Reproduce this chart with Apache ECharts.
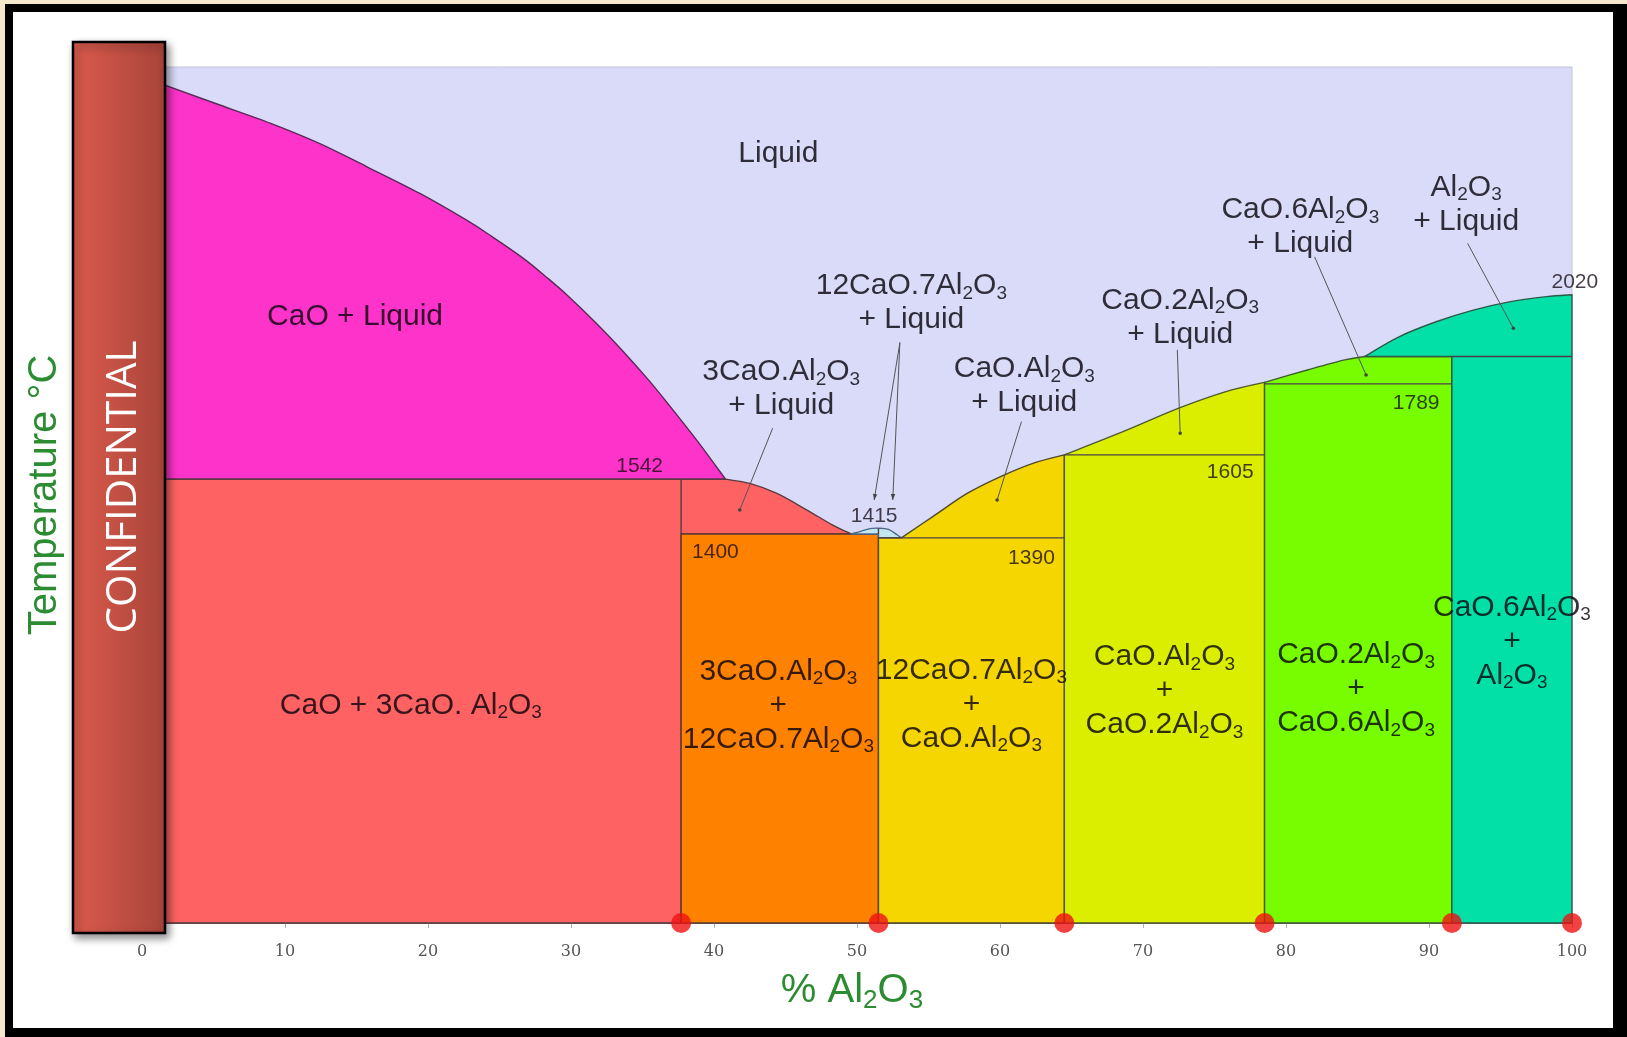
<!DOCTYPE html>
<html>
<head>
<meta charset="utf-8">
<script src="https://cdn.jsdelivr.net/npm/echarts@6/dist/echarts.min.js"></script>
<style>
html,body{margin:0;padding:0;width:1627px;height:1037px;overflow:hidden;background:#f4e9cc;}
#frame{position:absolute;left:5px;top:4px;right:0;bottom:0;border-style:solid;border-color:#000;border-width:8px 14px 9px 8px;background:#fff;}
#chart{position:absolute;left:0;top:0;width:1627px;height:1037px;}
</style>
</head>
<body>
<div id="frame"></div>
<div id="chart"></div>
<script>
// ---------------- DATA ----------------
const xTicks = [0, 10, 20, 30, 40, 50, 60, 70, 80, 90, 100];
const compounds = ['3CaO.Al2O3', '12CaO.7Al2O3', 'CaO.Al2O3', 'CaO.2Al2O3', 'CaO.6Al2O3', 'Al2O3'];
const compoundPct = [37.7, 51.5, 64.5, 78.5, 91.6, 100];
const invariantLabels = ['1542', '1400', '1415', '1390', '1605', '1789', '2020'];
const invariantTemps = [1542, 1400, 1415, 1390, 1605, 1789, 2020];
const peritecticCA6 = 1860;
const tMin = 392, tMax = 2610;

// liquidus curves [%Al2O3, T °C]
const liqCaO = [[0,2585],[1.6,2563],[5.1,2516],[9.0,2464],[12.4,2412],[15.7,2352],[19.4,2283],[22.7,2213],[24.5,2170],[26.6,2116],[28.2,2068],[29.7,2020],[31.8,1945],[33.6,1875],[35.4,1800],[36.9,1732],[39.0,1633],[40.8,1542]];
const liqC3A = [[40.8,1542],[42.5,1531],[44.4,1505],[46.5,1462],[48.3,1423],[49.6,1400]];
const liqC12A7 = [[49.6,1400],[50.2,1406],[50.9,1414],[51.5,1415],[52.2,1412],[52.8,1398],[53.1,1390]];
const liqCA = [[53.1,1390],[55.3,1445],[57.7,1505],[60.0,1548],[62.3,1583],[64.5,1605]];
const liqCA2 = [[64.5,1605],[68.6,1665],[72.5,1726],[75.8,1769],[78.5,1793]];
const liqCA6 = [[78.5,1793],[81.5,1825],[84.1,1851],[85.5,1860]];
const liqAl2O3 = [[85.5,1860],[87.9,1911],[90.5,1950],[93.1,1980],[95.7,2002],[98.2,2015],[100,2020]];

// phase field labels
const regionLabels = ['Liquid','CaO + Liquid','CaO + 3CaO. Al2O3','3CaO.Al2O3\n+ Liquid','12CaO.7Al2O3\n+ Liquid','CaO.Al2O3\n+ Liquid','CaO.2Al2O3\n+ Liquid','CaO.6Al2O3\n+ Liquid','Al2O3\n+ Liquid','3CaO.Al2O3\n+\n12CaO.7Al2O3','12CaO.7Al2O3\n+\nCaO.Al2O3','CaO.Al2O3\n+\nCaO.2Al2O3','CaO.2Al2O3\n+\nCaO.6Al2O3','CaO.6Al2O3\n+\nAl2O3'];

// ---------------- LAYOUT (annotation anchors in data space) ----------------
const regionLabelAt = [[44.5,2385],[14.9,1963],[18.8,955],[44.7,1776],[53.8,1999],[61.7,1783],[72.6,1961],[81.0,2196],[92.6,2254],[44.5,955],[58.0,958],[71.5,993],[84.9,998],[95.8,1121]];
const invariantLabelAt = [[34.8,1576],[40.1,1353],[51.2,1447],[62.2,1338],[76.1,1561],[89.1,1738],[100.2,2053]];
const leaderFrom = [[44.1,1674],[53.0,1896],[53.0,1896],[61.5,1691],[72.4,1877],[82.0,2118],[92.7,2153]];
const leaderTo = [[41.8,1462],[51.2,1488],[52.5,1488],[59.8,1488],[72.6,1661],[85.6,1812],[95.9,1933]];
const leaderEnd = ['dot','arrow','arrow','dot','dot','dot','dot'];

// ---------------- BUILD ----------------
const [xC3A, xC12A7, xCA, xCA2, xCA6, xA] = compoundPct;
const S = p => ({ c: false, p: p }), C = p => ({ c: true, p: p });
const regionRuns = [
  [S([[0,1542]]), C(liqCaO)],                                                        // CaO + L
  [S([[0,tMin],[0,1542]]), C(liqC3A), S([[xC3A,1400],[xC3A,tMin]])],                 // CaO + C3A, C3A + L
  [S([[xC3A,tMin],[xC3A,1400],[xC12A7,1400],[xC12A7,tMin]])],                        // C3A + C12A7
  [C(liqC12A7), S([[xC12A7,1390],[xC12A7,1400]])],                                   // C12A7 + L
  [S([[xC12A7,tMin],[xC12A7,1390]]), C(liqCA), S([[xCA,tMin]])],                     // C12A7 + CA, CA + L
  [S([[xCA,tMin]]), C(liqCA2), S([[xCA2,tMin]])],                                    // CA + CA2, CA2 + L
  [S([[xCA2,tMin]]), C(liqCA6), S([[xCA6,peritecticCA6],[xCA6,tMin]])],              // CA2 + CA6, CA6 + L
  [S([[xCA6,tMin],[xCA6,peritecticCA6]]), C(liqAl2O3), S([[xA,tMin]])]               // CA6 + A, A + L
];
const regionColors = ['#fe33c9','#fe6262','#fe8200','#c4e6f0','#f6d600','#dcee00','#78fc00','#02e0a8'];
const regionStroke = ['#5a2a58','#5a3a40','#5a3a30','#4a6a8a','#4e4a30','#4e5a30','#3e5a30','#2e5a4a'];
const extraSegments = [
  [[xC3A,1400],[xC3A,1542]],
  [[xC12A7,1400],[xC12A7,1415]],
  [[xC12A7,1390],[xCA,1390]],
  [[xCA,1605],[xCA2,1605]],
  [[xCA2,1789],[xCA6,1789]],
  [[xCA6,peritecticCA6],[xA,peritecticCA6]]
];

const FONT = '"Liberation Sans", Arial, Helvetica, sans-serif';
function toRich(s){ return s.replace(/Al2O3/g, 'Al{s|2}O{s|3}'); }

// render a region outline: straight runs as lines, curve runs as a smooth spline through the read points
function runsToPath(runs, api) {
  let d = '';
  runs.forEach((run, ri) => {
    const px = run.p.map(p => api.coord(p));
    if (!run.c) {
      px.forEach((q, k) => { d += ((ri === 0 && k === 0) ? 'M' : 'L') + q[0].toFixed(2) + ' ' + q[1].toFixed(2) + ' '; });
    } else {
      d += (ri === 0 ? 'M' : 'L') + px[0][0].toFixed(2) + ' ' + px[0][1].toFixed(2) + ' ';
      for (let k = 0; k < px.length - 1; k++) {
        const p0 = px[Math.max(k - 1, 0)], p1 = px[k], p2 = px[k + 1], p3 = px[Math.min(k + 2, px.length - 1)];
        const c1 = [p1[0] + (p2[0] - p0[0]) / 6, p1[1] + (p2[1] - p0[1]) / 6];
        const c2 = [p2[0] - (p3[0] - p1[0]) / 6, p2[1] - (p3[1] - p1[1]) / 6];
        d += 'C' + c1[0].toFixed(2) + ' ' + c1[1].toFixed(2) + ' ' + c2[0].toFixed(2) + ' ' + c2[1].toFixed(2) + ' ' + p2[0].toFixed(2) + ' ' + p2[1].toFixed(2) + ' ';
      }
    }
  });
  return d + 'Z';
}

const chart = echarts.init(document.getElementById('chart'));
const option = {
  animation: false,
  backgroundColor: 'transparent',
  grid: { left: 142, right: 55, top: 67, bottom: 114, show: true, backgroundColor: '#d9dbf8', borderColor: '#c4c4d4', borderWidth: 1 },
  xAxis: {
    type: 'value', min: 0, max: 100, interval: 10,
    name: '% Al{s|2}O{s|3}', nameLocation: 'middle', nameGap: 45,
    nameTextStyle: { color: '#2c8c32', fontSize: 40, fontFamily: FONT, lineHeight: 46, padding: [0, 10, 0, 0],
      rich: { s: { color: '#2c8c32', fontSize: 26, fontFamily: FONT, lineHeight: 12, verticalAlign: 'bottom' } } },
    axisLine: { show: true, lineStyle: { color: '#5a4048', width: 1.5 } },
    axisTick: { show: true, length: 5, lineStyle: { color: '#b0b0b0' } },
    axisLabel: { color: '#555', fontFamily: '"DejaVu Serif", "Liberation Serif", serif', fontSize: 16, margin: 21,
      formatter: v => String(xTicks[xTicks.indexOf(v)]) },
    splitLine: { show: false }
  },
  yAxis: {
    type: 'value', min: tMin, max: tMax,
    name: 'Temperature °C', nameLocation: 'middle', nameRotate: 90, nameGap: 77,
    nameTextStyle: { color: '#2c8c32', fontSize: 40, fontFamily: FONT },
    axisLine: { show: false }, axisTick: { show: false }, axisLabel: { show: false }, splitLine: { show: false }
  },
  series: [
    {
      type: 'custom', name: 'phases', z: 2,
      data: regionRuns.map((p, i) => [i, tMin]),
      renderItem: function (params, api) {
        const i = params.dataIndex;
        return { type: 'path', shape: { pathData: runsToPath(regionRuns[i], api) },
          style: { fill: regionColors[i], stroke: regionStroke[i], lineWidth: 1.4, lineJoin: 'round' } };
      }
    },
    {
      type: 'custom', name: 'tie lines', z: 3,
      data: extraSegments.map((s, i) => [i, tMin]),
      renderItem: function (params, api) {
        const s = extraSegments[params.dataIndex];
        const a = api.coord(s[0]), b = api.coord(s[1]);
        return { type: 'line', shape: { x1: a[0], y1: a[1], x2: b[0], y2: b[1] },
          style: { stroke: '#4b4048', lineWidth: 1.4 } };
      }
    },
    {
      type: 'custom', name: 'leaders', z: 4,
      data: leaderFrom.map((s, i) => [i, tMin]),
      renderItem: function (params, api) {
        const i = params.dataIndex;
        const a = api.coord(leaderFrom[i]), b = api.coord(leaderTo[i]);
        const children = [{ type: 'line', shape: { x1: a[0], y1: a[1], x2: b[0], y2: b[1] }, style: { stroke: '#555', lineWidth: 1 } }];
        if (leaderEnd[i] === 'dot') {
          children.push({ type: 'circle', shape: { cx: b[0], cy: b[1], r: 1.8 }, style: { fill: '#444' } });
        } else {
          const dx = b[0] - a[0], dy = b[1] - a[1], L = Math.hypot(dx, dy), ux = dx / L, uy = dy / L;
          const px = -uy, py = ux, s = 6;
          children.push({ type: 'polygon', shape: { points: [[b[0], b[1]], [b[0] - ux * s + px * 2.2, b[1] - uy * s + py * 2.2], [b[0] - ux * s - px * 2.2, b[1] - uy * s - py * 2.2]] }, style: { fill: '#444' } });
        }
        return { type: 'group', children: children };
      }
    },
    {
      type: 'custom', name: 'field labels', z: 5,
      data: regionLabels.map((s, i) => [i, tMin]),
      renderItem: function (params, api) {
        const i = params.dataIndex;
        const p = api.coord(regionLabelAt[i]);
        return { type: 'text', x: p[0], y: p[1],
          style: { text: toRich(regionLabels[i]), font: '30px ' + FONT, fill: 'rgba(10,5,15,0.82)',
            align: 'center', verticalAlign: 'middle', lineHeight: 34,
            rich: { s: { font: '19px ' + FONT, fill: 'rgba(10,5,15,0.82)', lineHeight: 10, verticalAlign: 'bottom' } } } };
      }
    },
    {
      type: 'custom', name: 'invariant temperatures', z: 5,
      data: invariantLabels.map((s, i) => [i, invariantTemps[i]]),
      renderItem: function (params, api) {
        const i = params.dataIndex;
        const p = api.coord(invariantLabelAt[i]);
        return { type: 'text', x: p[0], y: p[1],
          style: { text: invariantLabels[i], font: '21px ' + FONT, fill: 'rgba(20,10,20,0.78)', align: 'center', verticalAlign: 'middle' } };
      }
    },
    {
      type: 'scatter', name: 'compounds', z: 6, clip: false,
      symbol: 'circle', symbolSize: 20,
      itemStyle: { color: '#ee1111' },
      data: compoundPct.map((x, i) => ({ name: compounds[i], value: [x, tMin] }))
    }
  ],
  graphic: [
    { type: 'rect', z: 100, shape: { x: 73, y: 42, width: 92, height: 891 },
      style: { fill: { type: 'linear', x: 0, y: 0, x2: 1, y2: 0, colorStops: [{ offset: 0, color: '#dc5b4d' }, { offset: 1, color: '#a8443a' }] },
        stroke: '#000', lineWidth: 2.5, shadowBlur: 8, shadowOffsetX: 3, shadowOffsetY: 4, shadowColor: 'rgba(0,0,0,0.45)' } },
    { type: 'text', z: 101, x: 124, y: 487, rotation: Math.PI / 2,
      style: { text: 'CONFIDENTIAL', font: '42px "Open Sans", "Liberation Sans", sans-serif', fill: '#ffffff',
        align: 'center', verticalAlign: 'middle', textAlign: 'center', textVerticalAlign: 'middle' } }
  ]
};
chart.setOption(option);
</script>
</body>
</html>
